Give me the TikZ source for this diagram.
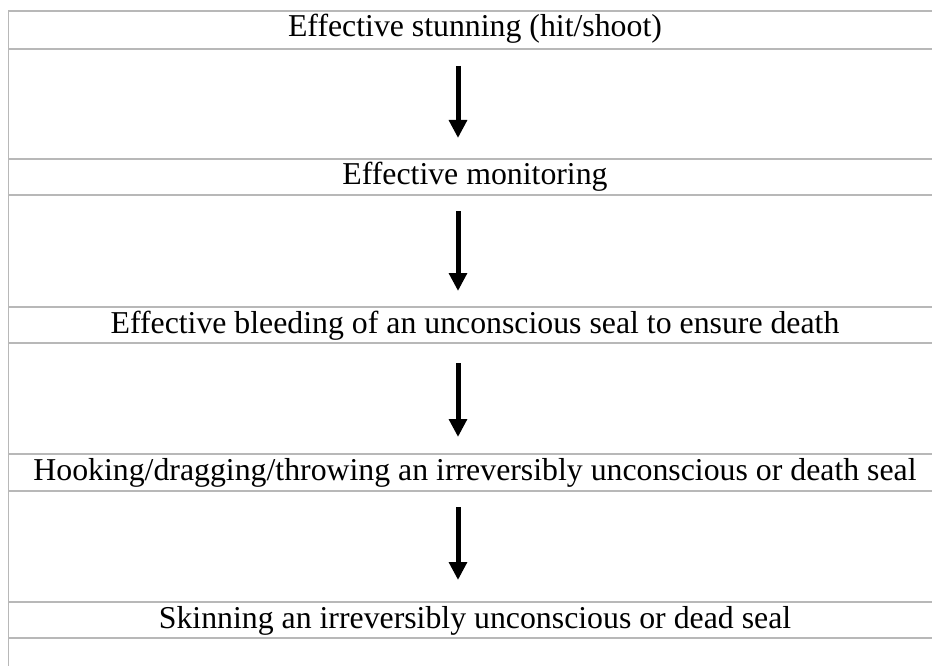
\documentclass[tikz,border=0pt]{standalone}
\usepackage{fontspec}
\setmainfont{Liberation Serif}
\usetikzlibrary{arrows.meta}
\tikzset{
  rule/.style={draw=black!28, line width=1.8pt},
  lbl/.style={anchor=base, inner sep=0pt, font=\fontsize{31.8}{38}\selectfont},
  flow/.style={line width=5pt, -{Triangle[width=17.5pt,length=18pt]}}
}
\begin{document}
\begin{tikzpicture}[x=1pt,y=-1pt]
\useasboundingbox (0,0) rectangle (932,666);
\fill[white] (0,0) rectangle (932,666);
% table rules
\foreach \yy in {11,49,159,195,307,343,454,491,602,638}
  \draw[rule] (8.5,\yy) -- (933,\yy);
\draw[rule] (8.5,10.1) -- (8.5,667);
% texts
\node[lbl] (t1) at (475,37) {Effective stunning (hit/shoot)};
\node[lbl] (t2) at (475,185) {Effective monitoring};
\node[lbl] (t3) at (475,333) {Effective bleeding of an unconscious seal to ensure death};
\node[lbl] (t4) at (475,480) {Hooking/dragging/throwing an irreversibly unconscious or death seal};
\node[lbl] (t5) at (475,628) {Skinning an irreversibly unconscious or dead seal};
% arrow ends
\coordinate (a1s) at (458,66);  \coordinate (a1e) at (458,138);
\coordinate (a2s) at (458,211); \coordinate (a2e) at (458,291);
\coordinate (a3s) at (458,363); \coordinate (a3e) at (458,437);
\coordinate (a4s) at (458,507); \coordinate (a4e) at (458,580);
\draw[flow] (a1s) -- (a1e);
\draw[flow] (a2s) -- (a2e);
\draw[flow] (a3s) -- (a3e);
\draw[flow] (a4s) -- (a4e);
\end{tikzpicture}
\end{document}
